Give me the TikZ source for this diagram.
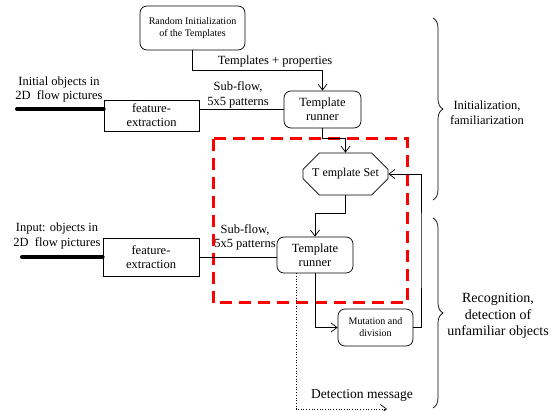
\documentclass[tikz,border=0pt]{standalone}
\usepackage{fontspec}
\setmainfont{Liberation Serif}
\usetikzlibrary{arrows.meta,shapes.misc,decorations.pathreplacing}
\begin{document}
\begin{tikzpicture}[x=1pt,y=-1pt,
  every node/.style={inner sep=0pt},
  rbox/.style={draw,line width=0.7pt,rounded corners=7pt,align=center,font=\fontsize{12.5}{14}\selectfont},
  sbox/.style={draw,line width=0.7pt,align=center,font=\fontsize{12.5}{14}\selectfont},
  smalltxt/.style={font=\fontsize{10}{12}\selectfont},
  lbl/.style={align=center,font=\fontsize{12.5}{14.5}\selectfont},
  sidelbl/.style={align=center,font=\fontsize{12.5}{15}\selectfont},
  conn/.style={line width=0.7pt},
  arr/.style={line width=0.7pt,-{Straight Barb[length=6pt,width=9pt]}},
  thickline/.style={line width=4pt,line cap=round},
  reddash/.style={draw=red,line width=3pt,dash pattern=on 12pt off 7pt},
  bracestyle/.style={line width=0.7pt,decorate,decoration={brace,amplitude=10pt,aspect=0.5}}]
\useasboundingbox (0,0) rectangle (551,411);

% boxes
\node[rbox,smalltxt,minimum width=105pt,minimum height=44pt] (rinit) at (192.5,28) {Random Initialization\\of the Templates};
\node[rbox,minimum width=77pt,minimum height=37pt] (run1) at (322.5,109.5) {Template\\runner};
\node[sbox,minimum width=95pt,minimum height=31pt] (fe1) at (151.5,115.5) {feature-\\extraction};
\node[draw,line width=0.7pt,chamfered rectangle,chamfered rectangle xsep=14pt,chamfered rectangle ysep=11pt,minimum width=85pt,minimum height=42pt,font=\fontsize{12}{14}\selectfont] (tset) at (345.5,174) {T emplate Set};
\node[rbox,minimum width=76pt,minimum height=36pt] (run2) at (315,255) {Template\\runner};
\node[sbox,minimum width=96pt,minimum height=38pt] (fe2) at (151,257) {feature-\\extraction};
\node[rbox,smalltxt,minimum width=75pt,minimum height=37pt] (mut) at (375.5,327.5) {Mutation and\\division};

% coordinates
\coordinate (in1) at (17,109);
\coordinate (in2) at (22,257);
\coordinate (k1) at (322.5,70);
\coordinate (k2) at (345.5,138);
\coordinate (k3) at (315,213);
\coordinate (k4) at (421,250);
\coordinate (d1) at (387,409);

% red dashed region
\draw[reddash] (213,139) rectangle (407,303);

% connectors
\draw[thickline] (in1) -- (fe1.west |- in1);
\draw[conn] (fe1.east |- run1.west) -- (run1.west);
\draw[thickline] (in2) -- (fe2.west);
\draw[conn] (fe2.east) -- (fe2.east -| run2.west);
\draw[arr] (rinit.south) |- (k1) -- (run1.north);
\draw[arr] (run1.south) |- (k2) -- (tset.north);
\draw[arr] (tset.south) |- (k3) -- (run2.north);
\draw[arr] (run2.south) |- (mut.west);
\draw[arr] (mut.east) -| (k4) |- (tset.east);
\draw[dotted,line width=0.7pt,-{Straight Barb[length=6pt,width=9pt]}] ([xshift=-19pt]run2.south) |- (d1);

% labels
\node[lbl] (t1) at (275,61) {Templates + properties};
\node[lbl] (t2) at (59,89.5) {Initial objects in\\2D\ \ flow pictures};
\node[lbl] (t3) at (238,95) {Sub-flow,\\5x5 patterns};
\node[lbl] (t4) at (57,236) {Input: objects in\\2D\ \ flow pictures};
\node[lbl] (t5) at (245,237.5) {Sub-flow,\\5x5 patterns};
\node[lbl,font=\fontsize{13.5}{15}\selectfont] (t6) at (362,395) {Detection message};

% braces
\coordinate (b1a) at (433,18);
\coordinate (b1b) at (433,200);
\coordinate (b2a) at (433,218);
\coordinate (b2b) at (433,408);
\draw[bracestyle] (b1a) -- (b1b);
\draw[bracestyle] (b2a) -- (b2b);
\node[sidelbl] (t7) at (487,112.5) {Initialization,\\familiarization};
\node[sidelbl,font=\fontsize{14}{16.5}\selectfont] (t8) at (498,316) {Recognition,\\detection of\\unfamiliar objects};
\end{tikzpicture}
\end{document}
